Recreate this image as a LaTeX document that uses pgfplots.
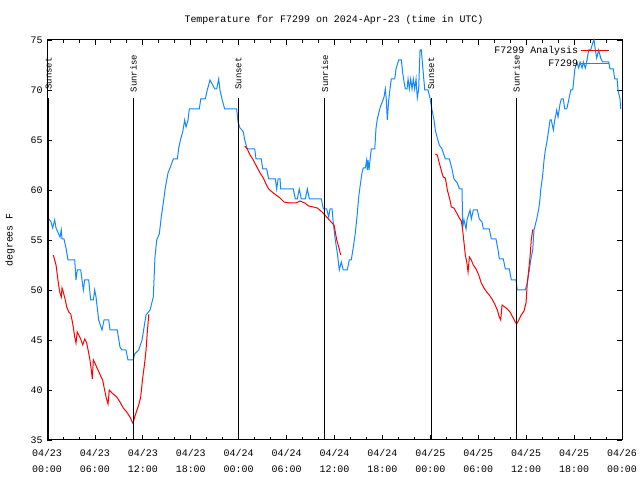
\documentclass[border=0pt]{standalone}
\usepackage{fontspec}
\setmainfont{Liberation Mono}
\usepackage{pgfplots}
\pgfplotsset{compat=1.18}
\definecolor{obsblue}{RGB}{20,136,255}

\pgfplotstableread{
h t
0.79 53.5
1.13 52.5
1.29 51.5
1.47 50.4
1.63 49.7
1.79 49.3
1.88 50.2
2.04 49.8
2.29 49.0
2.47 48.3
2.72 47.8
2.97 47.6
3.13 47.0
3.29 46.3
3.47 45.3
3.63 44.7
3.79 45.8
3.97 45.5
4.22 45.1
4.47 44.5
4.72 45.1
4.97 44.7
5.22 43.7
5.38 43.0
5.55 42.0
5.67 41.1
5.80 43.0
6.05 42.6
6.39 42.0
6.72 41.4
6.97 41.0
7.14 40.3
7.39 39.3
7.64 38.6
7.80 40.0
8.14 39.7
8.73 39.3
9.14 38.8
9.55 38.2
9.98 37.8
10.39 37.3
10.73 36.7
10.81 36.8
10.98 37.3
11.48 38.5
11.73 39.3
11.98 41.2
12.23 42.7
12.40 44.0
12.56 45.8
12.74 47.5
12.81 47.5
}\anaA

\pgfplotstableread{
h t
24.76 64.4
25.08 64.1
25.42 63.5
25.76 63.1
26.08 62.6
26.42 62.1
26.76 61.6
27.09 61.2
27.42 60.6
27.76 60.1
28.34 59.7
29.18 59.2
29.68 58.8
30.43 58.7
31.18 58.7
31.68 58.9
32.27 58.7
32.77 58.4
33.35 58.3
33.85 58.2
34.44 57.8
35.02 57.3
35.69 56.7
35.94 56.5
36.10 55.8
36.28 55.0
36.53 54.3
36.78 53.5
}\anaB

\pgfplotstableread{
h t
48.62 63.6
48.87 63.5
49.12 62.7
49.46 61.7
49.62 61.3
49.88 61.2
50.13 60.0
50.46 59.0
50.63 58.3
50.96 58.2
51.30 57.7
51.63 57.2
51.88 56.9
52.05 56.0
52.22 54.7
52.38 53.5
52.56 52.8
52.72 51.8
52.89 53.3
53.13 53.0
53.38 52.5
53.72 52.1
54.06 51.5
54.38 50.7
54.72 50.2
55.06 49.8
55.38 49.5
55.72 49.1
56.06 48.6
56.39 48.0
56.64 47.3
56.81 47.0
56.98 48.5
57.31 48.3
57.64 48.1
57.98 47.8
58.31 47.3
58.64 46.8
58.81 46.6
59.07 47.0
59.39 47.5
59.73 47.9
59.98 48.7
60.14 50.7
60.32 52.0
60.48 53.3
60.64 55.0
60.82 56.0
60.89 56.0
}\anaC

\pgfplotstableread{
h t
0.21 57.1
0.46 56.9
0.71 56.2
0.96 57.0
1.13 56.2
1.63 55.3
1.79 56.0
1.88 55.1
2.13 55.1
2.38 54.2
2.63 53.0
3.47 53.0
3.63 51.0
3.79 52.0
4.22 52.0
4.55 50.0
4.72 51.0
5.22 51.0
5.47 49.0
5.80 49.0
5.97 50.0
6.14 49.3
6.47 47.0
6.89 46.0
7.14 47.0
7.73 47.0
7.89 46.0
8.80 46.0
9.14 44.3
9.39 44.0
9.89 44.0
10.14 43.0
10.81 43.0
10.98 43.6
11.48 44.0
11.90 45.0
12.40 47.5
12.90 48.0
13.31 49.3
13.52 53.3
13.74 55.0
14.06 55.6
14.31 57.3
14.56 58.7
14.81 60.2
15.15 61.7
15.40 62.2
15.82 63.1
16.32 63.1
16.49 64.2
16.74 65.1
16.99 65.8
17.24 67.0
17.41 66.3
17.66 67.0
17.82 68.1
19.07 68.1
19.25 69.1
19.82 69.1
20.07 70.0
20.41 71.0
20.75 70.5
21.00 70.1
21.25 70.1
21.50 71.1
21.66 70.0
21.91 69.1
22.25 68.1
23.75 68.1
23.92 66.8
24.17 66.2
24.42 66.0
24.58 65.8
24.76 65.0
25.08 64.1
26.01 64.1
26.17 63.1
26.83 63.1
27.01 62.1
27.51 62.1
27.76 61.1
28.59 61.1
28.76 60.1
28.93 61.1
29.18 61.1
29.26 60.1
30.84 60.1
31.09 59.1
31.34 59.1
31.59 60.1
31.84 59.1
32.34 59.1
32.60 60.1
32.85 59.1
34.35 59.1
34.60 58.1
35.02 58.1
35.27 57.3
35.44 58.1
35.69 58.1
35.85 56.7
36.10 55.0
36.35 53.7
36.60 52.0
36.85 52.8
37.10 52.0
37.60 52.0
37.85 53.0
38.10 53.0
38.36 54.3
38.61 55.7
38.86 57.7
39.03 59.3
39.19 60.3
39.44 61.7
39.60 62.2
39.86 62.2
40.03 63.0
40.11 62.0
40.20 63.0
40.32 62.0
40.45 63.0
40.61 64.1
41.04 64.1
41.20 66.2
41.36 67.1
41.70 68.2
42.20 69.3
42.36 70.1
42.49 69.0
42.61 67.0
42.79 69.0
42.95 70.1
43.11 71.1
43.54 71.1
43.70 72.1
44.04 73.0
44.37 73.0
44.54 71.7
44.71 70.8
44.87 70.1
45.08 70.1
45.21 71.1
45.37 70.1
45.54 71.1
45.71 70.1
45.87 71.1
46.04 70.1
46.21 71.1
46.37 69.2
46.54 70.1
46.71 74.0
46.87 74.0
47.05 72.3
47.30 70.0
47.71 70.0
47.96 69.2
48.21 68.0
48.46 67.0
48.62 66.0
48.87 65.2
49.12 64.5
49.46 64.1
49.88 63.1
50.38 63.1
50.71 62.1
50.96 61.1
51.38 60.7
51.63 60.1
51.97 60.1
52.05 56.3
52.22 57.0
52.47 56.1
52.59 57.0
52.81 57.6
52.97 58.0
53.13 57.1
53.38 58.0
53.88 58.0
54.13 57.1
54.47 56.8
54.64 56.1
55.38 56.1
55.64 55.1
56.22 55.1
56.48 54.0
56.64 53.1
57.14 53.1
57.39 52.1
57.89 52.1
58.14 51.0
58.73 51.0
58.89 50.0
59.89 50.0
60.14 50.7
60.39 52.0
60.57 53.0
60.82 54.0
60.98 56.0
61.32 57.1
61.57 58.1
61.73 59.1
61.82 60.0
62.07 61.5
62.24 63.0
62.40 64.0
62.57 64.7
62.82 66.0
62.99 67.0
63.15 67.0
63.40 66.0
63.58 67.0
63.83 68.0
63.99 67.3
64.24 68.6
64.40 69.1
64.65 69.1
64.83 68.1
65.08 68.1
65.33 69.0
65.58 70.0
65.83 70.0
66.08 72.0
66.33 72.8
66.58 72.2
66.75 72.8
67.00 72.2
67.16 72.8
67.41 72.2
67.58 72.8
67.83 74.0
68.08 74.0
68.33 74.7
68.50 75.0
68.66 74.0
68.83 73.2
69.08 74.0
69.33 73.2
69.58 72.8
70.34 72.8
70.50 72.1
70.91 72.1
71.09 71.1
71.38 71.1
71.50 70.0
71.75 69.1
71.84 68.1
}\obs

\begin{document}
\begin{tikzpicture}
\useasboundingbox (0,0) rectangle (640bp,480bp);
\node[font=\fontsize{10}{12}\selectfont] at (334bp,460bp) {Temperature for F7299 on 2024-Apr-23 (time in UTC)};
\node[font=\fontsize{10}{12}\selectfont,rotate=90] at (10bp,240bp) {degrees F};
\begin{axis}[
at={(47bp,40bp)}, anchor=south west,
width=575bp, height=400bp, scale only axis,
xmin=0, xmax=72, ymin=35, ymax=75,
clip=false,
axis line style={line width=1bp},
xtick={0,6,...,72},
xticklabels={04/23\\00:00,04/23\\06:00,04/23\\12:00,04/23\\18:00,04/24\\00:00,04/24\\06:00,04/24\\12:00,04/24\\18:00,04/25\\00:00,04/25\\06:00,04/25\\12:00,04/25\\18:00,04/26\\00:00},
minor x tick num=2,
ytick={35,40,...,75},
tick align=inside,
major tick length=5bp, minor tick length=3bp,
tick style={black,line width=0.8bp},
/pgf/number format/assume math mode=true,
ticklabel style={font=\fontsize{10}{16}\selectfont},
xticklabel style={align=center, yshift=-6bp},
yticklabel style={xshift=-1bp},
legend style={draw=none, fill=none, at={(0.978,0.99)}, anchor=north east,
  font=\fontsize{10}{12}\selectfont, row sep=1bp, inner sep=0pt},
legend cell align=right,
legend plot pos=right,
legend image code/.code={\draw[#1] (0bp,0bp) -- (28bp,0bp);},
]
\addplot[red, line width=1bp] table[x=h,y=t] {\anaA};
\addlegendentry{F7299 Analysis}
\addplot[obsblue, line width=1bp] table[x=h,y=t] {\obs};
\addlegendentry{F7299}
\addplot[red, line width=1bp, forget plot] table[x=h,y=t] {\anaB};
\addplot[red, line width=1bp, forget plot] table[x=h,y=t] {\anaC};
\foreach \s/\lab in {0.2/Sunset,10.83/Sunrise,23.98/Sunset,34.81/Sunrise,48.09/Sunset,58.79/Sunrise}{
  \edef\tmp{\noexpand\addplot[black, line width=1bp, forget plot] coordinates {(\s,35) (\s,69.2)};}\tmp
  \edef\tmp{\noexpand\node[rotate=90, font=\noexpand\fontsize{9}{11}\noexpand\selectfont, inner sep=0pt] at (axis cs:\s,71.65) {\lab};}\tmp
}
\end{axis}
\end{tikzpicture}
\end{document}
